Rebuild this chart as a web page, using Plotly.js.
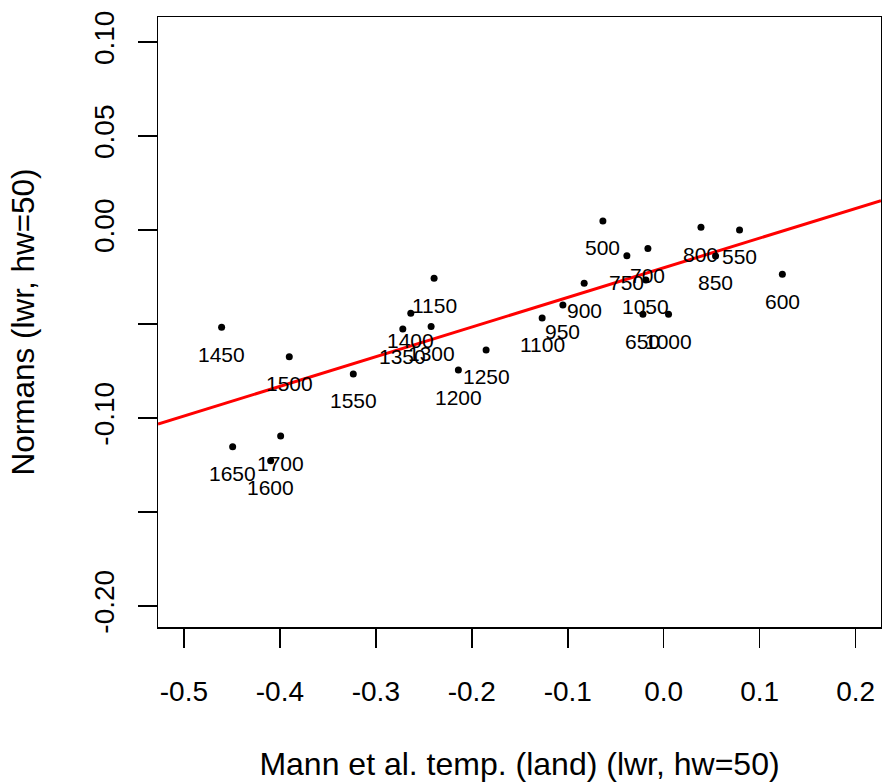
<!DOCTYPE html>
<html>
<head>
<meta charset="utf-8">
<script src="https://cdn.plot.ly/plotly-3.0.1.min.js"></script>
<style>html,body{margin:0;padding:0;background:#fff;}#chart{width:882px;height:783px;}</style>
</head>
<body>
<div id="chart"></div>
<script>
// Labels (years) and values
const years = ["500","550","600","650","700","750","800","850","900","950","1000","1050","1100","1150","1200","1250","1300","1350","1400","1450","1500","1550","1600","1650","1700"];
const mannTemp = [-0.0634,0.0790,0.1236,-0.0217,-0.0165,-0.0384,0.0388,0.0540,-0.0829,-0.1051,0.0050,-0.0186,-0.1267,-0.2393,-0.2140,-0.1851,-0.2424,-0.2719,-0.2636,-0.4607,-0.3902,-0.3235,-0.4096,-0.4492,-0.3992];
const normans = [0.0048,0.0000,-0.0236,-0.0448,-0.0099,-0.0137,0.0014,-0.0138,-0.0284,-0.0399,-0.0448,-0.0266,-0.0468,-0.0257,-0.0745,-0.0638,-0.0514,-0.0527,-0.0443,-0.0518,-0.0674,-0.0766,-0.1227,-0.1153,-0.1096];

// Fitted line
const fitIntercept = -0.0201;
const fitSlope = 0.1577;

// Axis ranges and ticks
const xRange = [-0.527, 0.2264];
const yRange = [-0.2112, 0.1133];
const xTickVals = [-0.5,-0.4,-0.3,-0.2,-0.1,0.0,0.1,0.2];
const xTickText = ["-0.5","-0.4","-0.3","-0.2","-0.1","0.0","0.1","0.2"];
const yTickVals = [-0.20,-0.15,-0.10,-0.05,0.00,0.05,0.10];
const yTickText = ["-0.20","","-0.10","","0.00","0.05","0.10"];

const fitX = xRange.slice();
const fitY = fitX.map(v => fitIntercept + fitSlope * v);

const FONT = "Liberation Sans, Arial, sans-serif";

const traces = [
  {x: fitX, y: fitY, mode: "lines", line: {color: "#ff0000", width: 3}, hoverinfo: "skip", showlegend: false, cliponaxis: true},
  {x: mannTemp, y: normans, mode: "markers", marker: {color: "#000", size: 7}, showlegend: false, cliponaxis: false}
];

const annotations = years.map((lab, i) => ({
  x: mannTemp[i], y: normans[i], xref: "x", yref: "y",
  text: lab, showarrow: false, yshift: -27,
  font: {family: FONT, size: 21, color: "#000"},
  xanchor: "center", yanchor: "middle"
}));

const axisCommon = {
  showgrid: false, zeroline: false, showline: true, mirror: true,
  linecolor: "#000", linewidth: 1.5,
  ticks: "outside", ticklen: 19, tickwidth: 1.5, tickcolor: "#000",
  tickfont: {family: FONT, size: 28, color: "#000"},
  tickmode: "array", automargin: false
};

const layout = {
  width: 882, height: 783,
  margin: {l: 158, r: 1, t: 17, b: 156},
  paper_bgcolor: "#fff", plot_bgcolor: "#fff",
  font: {family: FONT, color: "#000"},
  xaxis: Object.assign({}, axisCommon, {
    range: xRange, tickvals: xTickVals, ticktext: xTickText,
    ticklabelstandoff: 20,
    title: {text: "Mann et al. temp. (land) (lwr, hw=50)", font: {family: FONT, size: 32, color: "#000"}, standoff: 46}
  }),
  yaxis: Object.assign({}, axisCommon, {
    range: yRange, tickvals: yTickVals, ticktext: yTickText,
    tickangle: -90, ticklabelstandoff: 12,
    title: {text: "Normans (lwr, hw=50)", font: {family: FONT, size: 31.5, color: "#000"}, standoff: 45}
  }),
  annotations: annotations,
  showlegend: false
};

Plotly.newPlot("chart", traces, layout, {staticPlot: true, displayModeBar: false});
</script>
</body>
</html>
